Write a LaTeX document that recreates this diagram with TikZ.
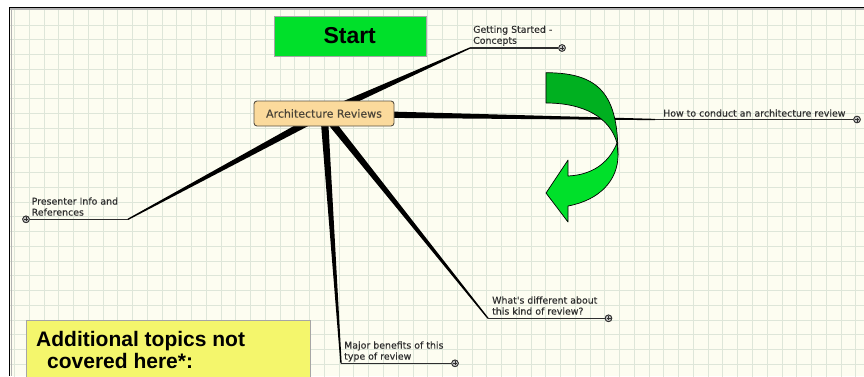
\documentclass[tikz,border=0pt]{standalone}
\usepackage{fontspec}
\newfontfamily\mmfont[FakeBold=0.35]{DejaVu Sans}
\newfontfamily\arfont{Liberation Sans}
\usetikzlibrary{calc}
\definecolor{bgc}{HTML}{FDFDF1}
\definecolor{gridc}{HTML}{DEE6D9}
\definecolor{lgreen}{HTML}{00E02A}
\definecolor{dgreen}{HTML}{00B020}
\definecolor{nodefill}{HTML}{FBDA9C}
\definecolor{nodedraw}{HTML}{5A5244}
\definecolor{nodetext}{HTML}{4A4438}
\definecolor{labelc}{HTML}{2E2E2E}
\definecolor{yellowc}{HTML}{F4F66C}
\newcommand\mmtaper[2]{%
  \fill[black] let \p1=(#1), \p2=(#2), \n1={atan2(\y2-\y1,\x2-\x1)} in
    ($(\p1)+(\n1+90:3.8pt)$) -- ($(\p2)+(\n1+90:0.65pt)$) --
    ($(\p2)+(\n1-90:0.65pt)$) -- ($(\p1)+(\n1-90:3.8pt)$) -- cycle;}
\begin{document}
\begin{tikzpicture}[x=1pt,y=-1pt,
  lbl/.style={anchor=south west, inner sep=0pt, text depth=0pt, align=left,
    font=\mmfont\fontsize{9.4}{11}\selectfont, text=labelc},
  uline/.style={draw=labelc, line width=1.3pt},
  plusc/.style={circle, draw=labelc, fill=gray!45, line width=0.8pt,
    minimum size=6.6pt, inner sep=0pt,
    path picture={\draw[labelc, line width=0.6pt]
      ([xshift=-2pt]path picture bounding box.center) -- ([xshift=2pt]path picture bounding box.center)
      ([yshift=-2pt]path picture bounding box.center) -- ([yshift=2pt]path picture bounding box.center);}},
  arrowpart/.style={draw=black, line width=0.7pt, line join=round}]
\useasboundingbox (0,0) rectangle (864,376);
\clip (0,0) rectangle (864,376);
% background and frame
\fill[white] (0,0) rectangle (864,376);
\fill[bgc] (10,10) rectangle (864,376);
\foreach \i in {0,...,58} \draw[gridc, line width=1pt] ({14.5+14.76*\i},10) -- ++(0,370);
\foreach \i in {0,...,24} \draw[gridc, line width=1pt] (10,{25+14.76*\i}) -- ++(860,0);
\draw[gray!60, line width=2pt] (10,9) -- (864,9);
\draw[gray!60, line width=1pt] (11,9) -- (11,376);
\draw[black, line width=1.3pt] (9.5,7.3) -- (864,7.3);
\draw[black, line width=1.5pt] (9.5,7.3) -- (9.5,376);
% start box
\node[draw=gray!70, fill=lgreen, minimum width=152pt, minimum height=39.7pt, inner sep=0pt,
  font=\arfont\bfseries\fontsize{23}{26}\selectfont] (start) at (349.7,35.9) {Start};
% central node coordinate
\coordinate (c) at (324,113.5);
% branch coordinates
\coordinate (gs) at (470,48);
\node[plusc] (gsc) at (562,48) {};
\coordinate (hc) at (655,119.5);
\node[plusc] (hcc) at (857,119.5) {};
\coordinate (pi) at (128,219.3);
\node[plusc] (pic) at (26,219.3) {};
\coordinate (mb) at (341,363.3);
\node[plusc] (mbc) at (455,363.3) {};
\coordinate (wd) at (488,318.3);
\node[plusc] (wdc) at (608.5,318.3) {};
% connectors
\mmtaper{c}{gs}
\mmtaper{c}{hc}
\mmtaper{c}{pi}
\mmtaper{c}{mb}
\mmtaper{c}{wd}
\draw[uline] (gs) -- (gsc);
\draw[uline] (hc) -- (hcc);
\draw[uline] (pi) -- (pic);
\draw[uline] (mb) -- (mbc);
\draw[uline] (wd) -- (wdc);
\node[plusc] at (gsc) {};
\node[plusc] at (hcc) {};
\node[plusc] at (pic) {};
\node[plusc] at (mbc) {};
\node[plusc] at (wdc) {};
% central node
\node[draw=nodedraw, fill=nodefill, rounded corners=3pt, line width=0.9pt,
  minimum width=140pt, minimum height=25pt, inner sep=0pt,
  font=\mmfont\fontsize{11}{13}\selectfont, text=nodetext] (ar) at (c) {Architecture Reviews};
% labels
\node[lbl] (gsl) at (473,44) {Getting Started -\\Concepts};
\node[lbl] (hcl) at (663,116.8) {How to conduct an architecture review};
\node[lbl] (pil) at (31.5,215.8) {Presenter Info and\\References};
\node[lbl] (mbl) at (344,359.8) {Major benefits of this\\type of review};
\node[lbl] (wdl) at (492,314.8) {What's different about\\this kind of review?};
% curved arrow
\path[arrowpart, fill=dgreen] (546,72.7) .. controls (600,72.7) and (618,95) .. (618,155)
  -- (617,143) .. controls (610,118) and (585,103) .. (546,103) -- cycle;
\path[arrowpart, fill=lgreen] (617,143) .. controls (608,165) and (590,175) .. (568,176)
  -- (568,160) -- (546,193) -- (568,222) -- (568,206)
  .. controls (600,200) and (618,180) .. (618,155) -- cycle;
% yellow box
\path[fill=yellowc, draw=gray!70, line width=0.8pt] (26,380) -- (26,320.7) -- (310,320.7) -- (310,380);
\node[anchor=south west, inner sep=0pt, text depth=0pt, align=left,
  font=\arfont\bfseries\fontsize{21}{21.6}\selectfont] (add) at (36,368.3)
  {Additional topics not\\\hspace*{11pt}covered here*:};
\end{tikzpicture}
\end{document}
